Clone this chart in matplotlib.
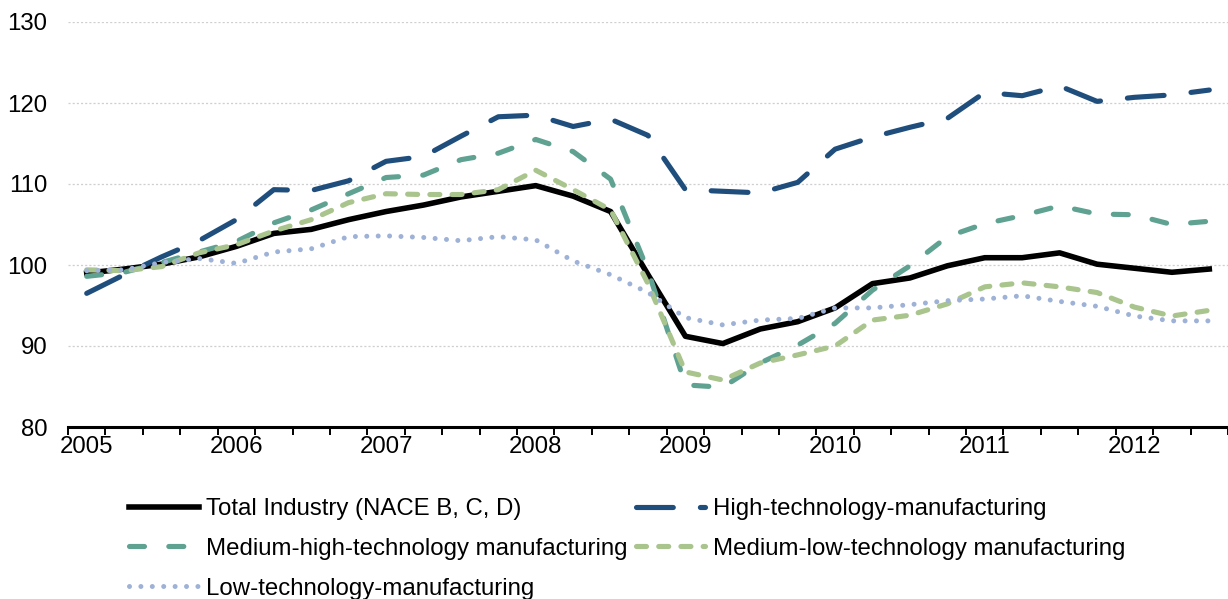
import matplotlib
matplotlib.use("Agg")
import matplotlib.pyplot as plt
import numpy as np

# quarterly index, 2005Q1 .. 2012Q3
years = ["2005", "2006", "2007", "2008", "2009", "2010", "2011", "2012"]
total = [99.0, 99.5, 100.1, 101.0, 102.3, 103.9, 104.4, 105.6, 106.6, 107.4, 108.4,
         109.1, 109.8, 108.5, 106.6, 98.8, 91.2, 90.3, 92.1, 93.0, 94.7, 97.7,
         98.4, 99.9, 100.9, 100.9, 101.5, 100.1, 99.6, 99.1, 99.5]
high = [96.5, 98.8, 101.0, 103.0, 105.6, 109.3, 109.2, 110.4, 112.8, 113.4, 115.9,
        118.3, 118.5, 117.1, 118.0, 116.0, 109.3, 109.1, 108.9, 110.2, 114.3, 115.8,
        117.0, 118.1, 121.3, 120.9, 122.1, 120.2, 120.7, 121.0, 121.6]
medhigh = [98.6, 99.1, 100.3, 101.6, 102.9, 105.2, 106.8, 108.8, 110.8, 111.1, 113.0,
           113.8, 115.5, 114.0, 110.6, 99.3, 85.2, 84.9, 87.9, 90.1, 92.8, 96.9,
           99.9, 103.5, 105.1, 106.1, 107.3, 106.3, 106.2, 105.0, 105.4]
medlow = [99.4, 99.3, 99.8, 101.5, 102.5, 104.2, 105.6, 107.7, 108.8, 108.7, 108.7,
          109.3, 111.7, 109.3, 106.8, 97.7, 86.8, 85.8, 87.9, 88.9, 90.0, 93.2,
          93.8, 95.2, 97.3, 97.8, 97.3, 96.6, 94.8, 93.7, 94.4]
low = [99.3, 99.4, 100.3, 100.8, 100.2, 101.6, 102.0, 103.5, 103.6, 103.4, 103.0,
       103.5, 103.1, 100.5, 98.8, 96.6, 93.5, 92.6, 93.2, 93.4, 94.7, 94.7,
       95.1, 95.6, 95.8, 96.2, 95.5, 94.9, 93.7, 93.1, 93.1]

plt.rcParams["font.family"] = ["Liberation Sans", "DejaVu Sans"]
plt.rcParams["lines.scale_dashes"] = False
FS = 17.3

fig = plt.figure(figsize=(12.28, 5.99), dpi=100)
ax = fig.add_axes([68 / 1228, 1 - 427 / 599, 1 - 68 / 1228, (427 - 22) / 599])
x = np.arange(len(total))

lt, = ax.plot(x, total, color="#000000", lw=4.0, solid_joinstyle="round",
              label="Total Industry (NACE B, C, D)")
lh, = ax.plot(x, high, color="#1f4e7d", lw=3.7, dashes=(26.5, 19.5),
              dash_capstyle="round", dash_joinstyle="round",
              label="High-technology-manufacturing")
lmh, = ax.plot(x, medhigh, color="#5fa292", lw=3.7, dashes=(10.8, 17.5),
               dash_capstyle="round", dash_joinstyle="round",
               label="Medium-high-technology manufacturing")
lml, = ax.plot(x, medlow, color="#a9c48d", lw=3.7, dashes=(7.2, 8.8),
               dash_capstyle="round", dash_joinstyle="round",
               label="Medium-low-technology manufacturing")
ll, = ax.plot(x, low, color="#9eb1d6", lw=3.6, dashes=(0.01, 8.2),
              dash_capstyle="round",
              label="Low-technology-manufacturing")

ax.set_xlim(-0.5, len(total) - 0.5)
ax.set_ylim(80, 130)
ax.set_yticks(range(80, 131, 10))
ax.set_xticks(range(0, len(total), 4))
ax.set_xticklabels(years)
ax.set_xticks(np.arange(-0.5, len(total) + 0.5, 1), minor=True)
ax.tick_params(axis="x", which="major", length=0, pad=6.5, labelsize=FS)
ax.tick_params(axis="x", which="minor", length=5.5, width=1.4, color="#000000")
ax.tick_params(axis="y", length=0, pad=15, labelsize=FS)
ax.yaxis.grid(True, color="#cfcfcf", lw=0.9, ls=(0, (1.5, 1.5)))
ax.set_axisbelow(True)
for s in ("left", "right", "top"):
    ax.spines[s].set_visible(False)
ax.spines["bottom"].set_linewidth(2.2)
ax.spines["bottom"].set_zorder(5)

# legend rows read left-to-right, so feed it column-wise
fig.legend([lt, lmh, ll, lh, lml],
           [h.get_label() for h in (lt, lmh, ll, lh, lml)],
           ncol=2, loc="upper left", bbox_to_anchor=(129 / 1228, 1 - 498 / 599),
           frameon=False, fontsize=FS, handlelength=2.9, handletextpad=0.3,
           columnspacing=0.35, labelspacing=0.74, borderaxespad=0, borderpad=0)

fig.savefig("out.png", dpi=100)
